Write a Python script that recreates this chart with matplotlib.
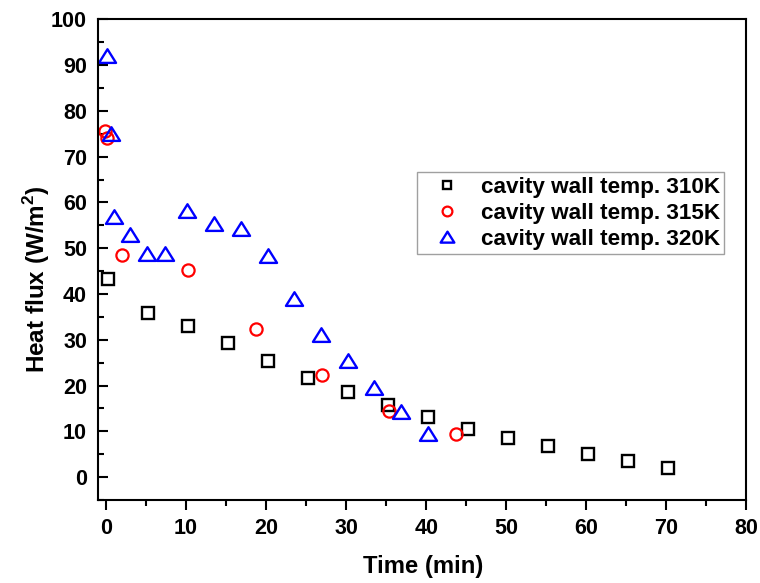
import matplotlib
matplotlib.use("Agg")
import matplotlib.pyplot as plt
from matplotlib.path import Path
from matplotlib.ticker import MultipleLocator

# heat flux readings (time in min, flux in W/m2)
t_310 = [0.2, 5.2, 10.2, 15.2, 20.2, 25.2, 30.2, 35.2, 40.2, 45.2, 50.2, 55.2, 60.2, 65.2, 70.2]
q_310 = [43.2, 35.8, 32.9, 29.3, 25.4, 21.7, 18.5, 15.8, 13.1, 10.6, 8.6, 6.7, 5.1, 3.5, 2.0]

t_315 = [-0.1, 0.1, 2.0, 10.3, 18.7, 27.0, 35.3, 43.7]
q_315 = [75.5, 74.0, 48.5, 45.2, 32.3, 22.3, 14.5, 9.5]

t_320 = [0.1, 0.6, 1.0, 3.0, 5.1, 7.4, 10.1, 13.5, 16.8, 20.2, 23.5, 26.8, 30.2, 33.5, 36.8, 40.2]
q_320 = [92.0, 75.0, 56.9, 52.8, 48.8, 48.8, 58.2, 55.2, 54.1, 48.3, 39.0, 31.1, 25.3, 19.5, 14.3, 9.4]

labels = ['cavity wall temp. 310K', 'cavity wall temp. 315K', 'cavity wall temp. 320K']

plt.rcParams['font.family'] = 'Liberation Sans'
plt.rcParams['font.weight'] = 'bold'
plt.rcParams['mathtext.fontset'] = 'custom'
plt.rcParams['mathtext.bf'] = 'Liberation Sans:bold'
plt.rcParams['mathtext.rm'] = 'Liberation Sans:bold'

fig = plt.figure(figsize=(7.6, 5.83), dpi=100)
ax = fig.add_axes([0.129, 0.1424, 0.853, 0.8245])

# slightly flattened open triangle, like the original
tri = Path([(-1, -0.75), (1, -0.75), (0, 0.85), (-1, -0.75)], closed=True)
ax.plot(t_310, q_310, 's', ms=8.0, mfc='none', mec='black', mew=1.7, label=labels[0])
ax.plot(t_315, q_315, 'o', ms=8.8, mfc='none', mec='red', mew=1.6, label=labels[1])
ax.plot(t_320, q_320, marker=tri, ls='none', ms=12.3, mfc='none', mec='blue', mew=1.7, label=labels[2])

ax.set_xlim(-1, 80)
ax.set_ylim(-5, 100)
ax.xaxis.set_major_locator(MultipleLocator(10))
ax.xaxis.set_minor_locator(MultipleLocator(5))
ax.yaxis.set_major_locator(MultipleLocator(10))
ax.yaxis.set_minor_locator(MultipleLocator(5))

for s in ax.spines.values():
    s.set_linewidth(1.5)
ax.tick_params(axis='x', which='major', direction='out', length=7, width=1.5, labelsize=15.5, pad=6)
ax.tick_params(axis='x', which='minor', direction='out', length=4, width=1.5)
ax.tick_params(axis='y', which='major', direction='in', length=7, width=1.5, labelsize=15.5, pad=8)
ax.tick_params(axis='y', which='minor', direction='in', length=4, width=1.5)

ax.set_xlabel('Time (min)', fontsize=17.2, fontweight='bold')
ax.set_ylabel('Heat flux (W/m$^\\mathbf{2}$)', fontsize=17.5, fontweight='bold')
ax.xaxis.set_label_coords(0.502, -0.115)
ax.yaxis.set_label_coords(-0.071, 0.46)

leg = ax.legend(loc='upper left', bbox_to_anchor=(0.4916, 0.6817), fontsize=16.2,
                frameon=True, fancybox=False, borderpad=0.2, handletextpad=0.35,
                labelspacing=0.22, handlelength=2.3, borderaxespad=0, markerscale=0.8)
leg.get_frame().set_edgecolor('#888888')
leg.get_frame().set_linewidth(1.0)

plt.savefig('out.png', dpi=100)
